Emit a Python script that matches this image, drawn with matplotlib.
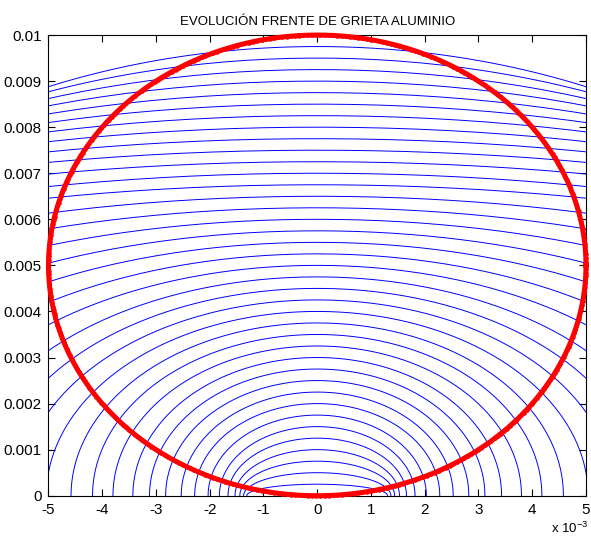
import numpy as np
import matplotlib.pyplot as plt
from matplotlib.ticker import FuncFormatter

plt.rcParams['font.family'] = ['Liberation Sans', 'DejaVu Sans']
plt.rcParams['mathtext.default'] = 'regular'

# crack depth at the centre line (m) for each front
a_front = [0.00025, 0.00050, 0.00075, 0.00100, 0.00125, 0.00150, 0.00175, 0.00200,
           0.00225, 0.00250, 0.00275, 0.00300, 0.00325, 0.00350, 0.00375, 0.00400,
           0.00425, 0.00450, 0.00475, 0.00500, 0.00525, 0.00550, 0.00575, 0.00600,
           0.00625, 0.00650, 0.00675, 0.00700, 0.00725, 0.00750, 0.00775, 0.00800,
           0.00825, 0.00850, 0.00875, 0.00900, 0.00925, 0.00950, 0.00975]
# half length at the surface (m) for each front
c_front = [0.00131, 0.00137, 0.00144, 0.00153, 0.00166, 0.00182, 0.00203, 0.00228,
           0.00253, 0.00282, 0.00312, 0.00343, 0.00380, 0.00418, 0.00458, 0.00504,
           0.00553, 0.00607, 0.00668, 0.00746, 0.00833, 0.00932, 0.01045, 0.01176,
           0.01330, 0.01510, 0.01720, 0.01760, 0.01860, 0.01900, 0.01860, 0.01800,
           0.01730, 0.01650, 0.01560, 0.01470, 0.01380, 0.01300, 0.01210]

# red reference circle
circ_xc = 0.0
circ_yc = 0.005
circ_r = 0.005

x_ticks = [-0.005, -0.004, -0.003, -0.002, -0.001, 0, 0.001, 0.002, 0.003, 0.004, 0.005]
y_ticks = [0, 0.001, 0.002, 0.003, 0.004, 0.005, 0.006, 0.007, 0.008, 0.009, 0.01]

fig = plt.figure(figsize=(5.91, 5.39), dpi=100)
ax = fig.add_axes([0.082, 0.0803, 0.9095, 0.8547])

t = np.linspace(0, np.pi, 200)
for a, c in zip(a_front, c_front):
    ax.plot(c * np.cos(t), a * np.sin(t), color='#0000ff', lw=0.7)

tc = np.linspace(0, 2 * np.pi, 400)
ax.plot(circ_xc + circ_r * np.cos(tc), circ_yc + circ_r * np.sin(tc), 'r.-',
        lw=3.6, ms=4.5, clip_on=False, zorder=5)

ax.set_xlim(-0.005, 0.005)
ax.set_ylim(0, 0.01)
ax.set_xticks(x_ticks)
ax.set_yticks(y_ticks)
ax.xaxis.set_major_formatter(FuncFormatter(lambda v, p: '%g' % round(v * 1000, 6)))
ax.yaxis.set_major_formatter(FuncFormatter(lambda v, p: '%g' % v))
ax.tick_params(direction='in', top=True, right=True, length=5, width=0.8,
               labelsize=11, pad=5)
for s in ax.spines.values():
    s.set_linewidth(0.8)

ax.set_title('EVOLUCIÓN FRENTE DE GRIETA ALUMINIO', fontsize=9.5, pad=7)
ax.text(1.005, -0.072, r'x 10$^{-3}$', transform=ax.transAxes, ha='right',
        va='center', fontsize=9.5)

fig.savefig('out.png', dpi=100)
